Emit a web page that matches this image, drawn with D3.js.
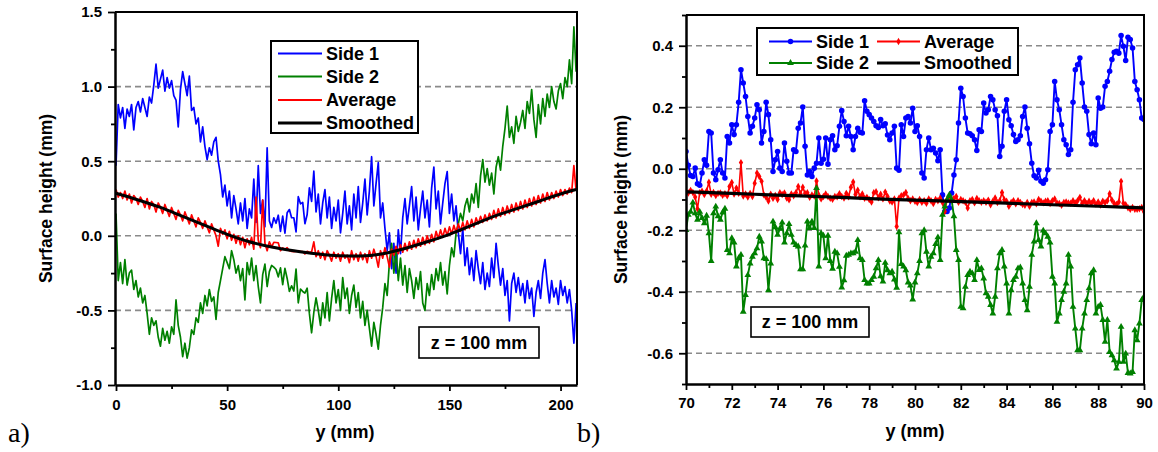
<!DOCTYPE html>
<html>
<head>
<meta charset="utf-8">
<script src="https://cdn.jsdelivr.net/npm/d3@7"></script>
<style>
  body { margin: 0; background: #fff; }
  svg text { font-family: "Liberation Sans", Arial, Helvetica, sans-serif; }
</style>
</head>
<body>
<svg id="chart" width="1158" height="452"></svg>
<script>
// ---------- Panel a): full width profile, 1 mm sampling ----------
const leftY = d3.range(0, 208);   // y position (mm)

const leftSide1 = [
  0.47,0.88,0.79,0.86,0.72,0.85,0.80,0.88,0.71,0.86,
  0.90,0.83,0.92,0.86,0.80,0.93,0.89,1.01,1.15,0.99,
  1.05,1.11,0.97,1.06,0.99,1.04,0.94,0.91,0.73,0.98,
  1.10,1.02,0.94,1.07,0.84,0.86,0.75,0.79,0.63,0.73,
  0.60,0.51,0.59,0.54,0.63,0.66,0.50,0.41,0.26,0.34,
  0.20,0.30,0.12,0.27,0.18,0.08,0.22,0.10,0.25,0.05,
  0.18,0.12,0.38,0.09,0.47,0.15,0.24,0.06,0.59,0.10,
  0.056,0.121,0.084,0.138,0.029,0.132,0.018,0.154,0.176,0.121,
  0.121,0.026,0.262,0.214,0.224,0.081,0.143,0.322,0.230,0.433,
  0.16,0.28,0.08,0.22,0.31,0.12,0.26,0.05,0.19,0.10,
  0.24,0.02,0.15,0.30,0.08,0.20,0.04,0.28,0.12,0.33,
  0.09,0.22,0.38,0.14,0.30,0.53,0.20,0.35,0.49,0.12,
  0.22,0.05,-0.10,0.02,-0.22,-0.05,-0.25,0.04,-0.12,0.12,
  0.25,0.08,0.20,0.33,0.10,0.26,0.04,0.18,0.30,0.12,
  0.24,0.06,0.32,0.46,0.18,0.30,0.08,0.22,0.35,0.43,
  0.15,0.28,0.10,0.20,0.02,-0.12,0.05,-0.20,-0.08,-0.26,
  -0.15,-0.30,-0.10,-0.22,-0.32,-0.18,-0.36,-0.25,-0.34,-0.15,
  -0.28,-0.05,-0.20,-0.33,-0.22,-0.40,-0.30,-0.57,-0.32,-0.25,
  -0.38,-0.28,-0.40,-0.32,-0.45,-0.30,-0.42,-0.35,-0.54,-0.38,
  -0.30,-0.42,-0.25,-0.16,-0.32,-0.45,-0.30,-0.41,-0.35,-0.46,
  -0.30,-0.40,-0.34,-0.45,-0.36,-0.50,-0.72,-0.45
];

const leftSide2 = [
  0.15,-0.30,-0.18,-0.32,-0.16,-0.33,-0.25,-0.23,-0.36,-0.30,
  -0.41,-0.35,-0.45,-0.40,-0.52,-0.66,-0.55,-0.60,-0.57,-0.68,
  -0.74,-0.62,-0.70,-0.64,-0.72,-0.61,-0.66,-0.43,-0.60,-0.68,
  -0.81,-0.72,-0.82,-0.75,-0.63,-0.66,-0.55,-0.58,-0.45,-0.52,
  -0.40,-0.47,-0.36,-0.44,-0.41,-0.56,-0.38,-0.30,-0.22,-0.14,
  -0.18,-0.22,-0.10,-0.16,-0.25,-0.20,-0.30,-0.22,-0.43,-0.18,
  -0.26,-0.15,-0.30,-0.20,-0.34,-0.45,-0.26,-0.19,-0.34,-0.24,
  -0.199,-0.210,-0.226,-0.275,-0.215,-0.327,-0.218,-0.286,-0.373,-0.335,
  -0.370,-0.223,-0.449,-0.357,-0.373,-0.384,-0.351,-0.520,-0.650,-0.514,
  -0.416,-0.50,-0.60,-0.45,-0.55,-0.38,-0.57,-0.42,-0.30,-0.45,
  -0.36,-0.50,-0.28,-0.42,-0.35,-0.52,-0.40,-0.33,-0.48,-0.38,
  -0.55,-0.44,-0.60,-0.50,-0.62,-0.74,-0.58,-0.66,-0.76,-0.60,
  -0.48,-0.32,-0.40,-0.18,-0.05,-0.25,-0.10,-0.30,-0.15,-0.33,
  -0.20,-0.38,-0.22,-0.30,-0.42,-0.28,-0.36,-0.24,-0.45,-0.50,
  -0.32,-0.40,-0.26,-0.36,-0.22,-0.30,-0.18,-0.33,-0.24,-0.39,
  -0.20,-0.08,-0.14,0.02,0.08,0.15,0.10,0.20,0.25,0.16,
  0.28,0.22,0.35,0.19,0.40,0.51,0.36,0.45,0.34,0.42,
  0.28,0.46,0.53,0.44,0.60,0.72,0.87,0.66,0.73,0.62,
  0.80,0.70,0.76,0.84,0.72,0.90,0.82,0.98,0.78,0.66,
  0.88,0.75,0.92,0.80,0.95,0.86,1.00,0.90,0.85,0.97,
  1.02,0.92,1.06,1.00,1.18,1.02,1.40,1.10
];

const leftAverage = [
  0.31,0.26,0.29,0.25,0.30,0.24,0.28,0.22,0.27,0.25,
  0.21,0.26,0.23,0.19,0.25,0.18,0.23,0.21,0.16,0.22,
  0.19,0.15,0.21,0.17,0.13,0.19,0.15,0.11,0.17,0.14,
  0.10,0.16,0.12,0.08,0.14,0.10,0.06,0.12,0.09,0.05,
  0.10,0.06,0.02,0.08,0.04,0.00,-0.07,0.05,0.01,0.04,
  -0.02,0.03,-0.03,0.01,-0.05,0.00,-0.06,-0.01,-0.08,-0.02,
  -0.06,-0.01,-0.09,0.26,-0.03,-0.08,0.24,-0.05,-0.10,-0.04,
  -0.074,-0.044,-0.045,-0.047,-0.100,-0.081,-0.090,-0.080,-0.100,-0.105,
  -0.106,-0.104,-0.100,-0.104,-0.106,-0.122,-0.104,-0.111,-0.108,-0.041,
  -0.140,-0.10,-0.15,-0.11,-0.16,-0.10,-0.13,-0.17,-0.11,-0.15,
  -0.12,-0.17,-0.11,-0.15,-0.13,-0.18,-0.10,-0.16,-0.12,-0.17,
  -0.11,-0.16,-0.12,-0.18,-0.10,-0.15,-0.09,-0.14,-0.21,-0.10,
  -0.15,-0.08,-0.14,-0.21,-0.09,-0.13,-0.07,-0.12,-0.06,-0.11,
  -0.05,-0.10,-0.04,-0.09,-0.03,-0.08,-0.02,-0.07,-0.01,-0.06,
  0.00,-0.05,0.01,-0.04,0.03,-0.02,0.04,-0.01,0.05,0.00,
  0.06,0.01,0.07,0.02,0.08,0.03,0.09,0.04,0.10,0.05,
  0.11,0.06,0.12,0.08,0.13,0.09,0.14,0.10,0.15,0.11,
  0.17,0.12,0.18,0.13,0.19,0.14,0.20,0.15,0.21,0.16,
  0.22,0.17,0.23,0.18,0.24,0.19,0.25,0.20,0.26,0.21,
  0.27,0.22,0.28,0.23,0.29,0.24,0.29,0.25,0.30,0.26,
  0.31,0.27,0.31,0.28,0.32,0.29,0.47,0.30
];

const leftSmoothY = [0,10,20,30,40,50,60,70,80,90,100,110,120,130,140,150,160,170,180,190,200,207];
const leftSmoothed = [0.285,0.24,0.19,0.13,0.07,0.01,-0.04,-0.075,-0.10,-0.12,-0.133,-0.135,-0.12,-0.085,-0.04,0.01,0.07,0.13,0.18,0.23,0.28,0.31];

const leftXTicks = [0, 50, 100, 150, 200];
const leftXMinor = [25, 75, 125, 175];
const leftYTicks = [-1.0, -0.5, 0.0, 0.5, 1.0, 1.5];
const leftYMinor = [-0.75, -0.25, 0.25, 0.75, 1.25];
const leftGrid = [-0.5, 0.0, 0.5, 1.0];

// ---------- Panel b): 70–90 mm detail, 0.1 mm sampling ----------
const rightY = d3.range(0, 201).map(i => +(70 + i / 10).toFixed(1));

const rightSide1 = [
  0.056,0.011,-0.022,-0.025,0.002,-0.049,-0.054,-0.014,0.029,0.011,
  0.121,0.116,-0.014,-0.036,-0.003,0.029,-0.014,-0.030,0.105,0.084,
  0.143,0.111,0.143,0.216,0.322,0.279,0.235,0.170,0.116,0.138,
  0.165,0.208,0.192,0.084,0.121,0.216,0.176,0.094,-0.009,0.029,
  0.056,0.002,-0.009,0.084,0.024,-0.014,-0.014,0.062,0.056,0.132,
  0.149,0.201,0.073,-0.020,-0.009,-0.025,0.002,0.018,0.100,0.018,
  0.031,0.100,0.015,0.094,0.107,0.062,0.075,0.138,0.189,0.154,
  0.107,0.138,0.105,0.062,0.105,0.132,0.119,0.116,0.221,0.187,
  0.176,0.165,0.154,0.140,0.134,0.160,0.140,0.146,0.110,0.094,
  0.116,0.138,0.002,-0.005,0.143,0.105,0.165,0.170,0.149,0.197,
  0.121,0.140,0.105,-0.014,-0.030,0.062,0.100,0.062,0.067,0.051,
  0.026,0.062,-0.085,-0.139,-0.139,-0.128,-0.079,-0.020,0.029,0.149,
  0.262,0.235,0.165,0.116,0.114,0.107,0.094,0.059,0.127,0.121,
  0.214,0.181,0.192,0.235,0.224,0.192,0.172,0.040,0.073,0.187,
  0.224,0.159,0.140,0.111,0.089,0.094,0.107,0.170,0.201,0.132,
  0.081,0.018,-0.023,-0.030,-0.005,-0.041,-0.047,-0.036,-0.003,0.121,
  0.143,0.284,0.224,0.192,0.143,0.094,0.078,0.046,0.062,0.216,
  0.322,0.338,0.360,0.279,0.201,0.187,0.111,0.081,0.116,0.078,
  0.230,0.197,0.201,0.268,0.284,0.317,0.355,0.379,0.382,0.376,
  0.433,0.398,0.352,0.428,0.420,0.393,0.284,0.257,0.224,0.165,
  0.160
];

const rightSide2 = [
  -0.199,-0.150,-0.140,-0.110,-0.145,-0.166,-0.140,-0.160,-0.177,-0.153,
  -0.210,-0.300,-0.145,-0.123,-0.155,-0.166,-0.142,-0.130,-0.264,-0.275,
  -0.226,-0.240,-0.318,-0.291,-0.280,-0.465,-0.411,-0.346,-0.308,-0.286,
  -0.275,-0.259,-0.221,-0.237,-0.291,-0.294,-0.395,-0.308,-0.172,-0.190,
  -0.215,-0.195,-0.175,-0.240,-0.210,-0.180,-0.215,-0.240,-0.248,-0.253,
  -0.327,-0.327,-0.250,-0.172,-0.193,-0.172,-0.193,-0.063,-0.318,-0.210,
  -0.218,-0.291,-0.218,-0.300,-0.325,-0.270,-0.275,-0.319,-0.386,-0.363,
  -0.283,-0.280,-0.275,-0.275,-0.270,-0.232,-0.291,-0.297,-0.362,-0.373,
  -0.373,-0.362,-0.351,-0.324,-0.297,-0.350,-0.367,-0.306,-0.330,-0.340,
  -0.335,-0.360,-0.387,-0.207,-0.310,-0.318,-0.330,-0.370,-0.380,-0.425,
  -0.370,-0.340,-0.300,-0.210,-0.200,-0.270,-0.318,-0.286,-0.275,-0.245,
  -0.223,-0.297,-0.150,-0.123,-0.101,-0.085,-0.101,-0.155,-0.264,-0.297,
  -0.449,-0.454,-0.384,-0.346,-0.335,-0.340,-0.362,-0.297,-0.329,-0.324,
  -0.357,-0.405,-0.416,-0.443,-0.471,-0.416,-0.324,-0.275,-0.264,-0.318,
  -0.373,-0.471,-0.395,-0.362,-0.351,-0.324,-0.321,-0.373,-0.427,-0.460,
  -0.384,-0.280,-0.237,-0.177,-0.232,-0.253,-0.201,-0.210,-0.221,-0.240,
  -0.351,-0.373,-0.498,-0.471,-0.427,-0.400,-0.373,-0.280,-0.318,-0.449,
  -0.520,-0.590,-0.590,-0.520,-0.471,-0.427,-0.389,-0.340,-0.330,-0.471,
  -0.449,-0.443,-0.492,-0.563,-0.492,-0.596,-0.607,-0.623,-0.650,-0.628,
  -0.514,-0.628,-0.601,-0.664,-0.666,-0.661,-0.525,-0.558,-0.503,-0.427,
  -0.416
];

const rightAverage = [
  -0.074,-0.079,-0.071,-0.077,-0.092,-0.130,-0.078,-0.073,-0.084,-0.072,
  -0.044,-0.083,-0.077,-0.087,-0.080,-0.079,-0.086,-0.081,-0.088,-0.058,
  -0.045,-0.082,-0.063,-0.080,0.020,-0.089,-0.082,-0.092,-0.080,-0.090,
  -0.047,-0.014,-0.025,-0.041,-0.085,-0.093,-0.105,-0.083,-0.096,-0.087,
  -0.100,-0.078,-0.084,-0.079,-0.095,-0.101,-0.082,-0.088,-0.078,-0.058,
  -0.081,-0.060,-0.080,-0.078,-0.093,-0.085,-0.089,-0.040,-0.086,-0.098,
  -0.090,-0.082,-0.090,-0.096,-0.099,-0.090,-0.091,-0.081,-0.090,-0.095,
  -0.080,-0.091,-0.060,-0.043,-0.084,-0.070,-0.091,-0.082,-0.096,-0.093,
  -0.100,-0.108,-0.078,-0.075,-0.094,-0.083,-0.098,-0.076,-0.090,-0.105,
  -0.108,-0.098,-0.188,-0.096,-0.088,-0.085,-0.077,-0.097,-0.104,-0.098,
  -0.106,-0.110,-0.100,-0.109,-0.104,-0.112,-0.098,-0.104,-0.113,-0.100,
  -0.104,-0.096,-0.110,-0.139,-0.100,-0.090,-0.100,-0.097,-0.090,-0.109,
  -0.100,-0.104,-0.109,-0.128,-0.104,-0.100,-0.111,-0.097,-0.104,-0.109,
  -0.104,-0.109,-0.102,-0.117,-0.106,-0.095,-0.110,-0.104,-0.077,-0.101,
  -0.106,-0.122,-0.110,-0.104,-0.114,-0.104,-0.110,-0.116,-0.119,-0.110,
  -0.122,-0.110,-0.108,-0.114,-0.100,-0.106,-0.111,-0.106,-0.104,-0.113,
  -0.104,-0.098,-0.111,-0.113,-0.119,-0.110,-0.108,-0.111,-0.112,-0.104,
  -0.111,-0.104,-0.093,-0.112,-0.104,-0.113,-0.106,-0.112,-0.104,-0.115,
  -0.108,-0.118,-0.106,-0.110,-0.104,-0.081,-0.102,-0.113,-0.116,-0.108,
  -0.041,-0.112,-0.117,-0.127,-0.132,-0.126,-0.132,-0.132,-0.130,-0.126,
  -0.140
];

const rightSmoothY = [70,72,74,76,78,80,82,84,86,88,90];
const rightSmoothed = [-0.075,-0.080,-0.086,-0.091,-0.097,-0.102,-0.107,-0.112,-0.117,-0.122,-0.127];

const rightXTicks = [70,72,74,76,78,80,82,84,86,88,90];
const rightXMinor = [71,73,75,77,79,81,83,85,87,89];
const rightYTicks = [-0.6,-0.4,-0.2,0.0,0.2,0.4];
const rightYMinor = [-0.7,-0.5,-0.3,-0.1,0.1,0.3,0.5];
const rightGrid = [-0.6,-0.4,-0.2,0.0,0.2,0.4];

const BLUE = "#0000ff", GREEN = "#008000", RED = "#ff0000", BLACK = "#000000";

const svg = d3.select("#chart");
const fmt1 = d => d.toFixed(1);

function drawPanel(p) {
  const g = svg.append("g");
  const x = d3.scaleLinear().domain(p.xDomain).range([p.left, p.right]);
  const y = d3.scaleLinear().domain(p.yDomain).range([p.bottom, p.top]);

  svg.append("clipPath").attr("id", p.id + "-clip")
    .append("rect")
    .attr("x", p.left).attr("y", p.top)
    .attr("width", p.right - p.left).attr("height", p.bottom - p.top);

  // dashed horizontal grid
  g.append("g").selectAll("line").data(p.grid).join("line")
    .attr("x1", p.left).attr("x2", p.right)
    .attr("y1", d => y(d)).attr("y2", d => y(d))
    .attr("stroke", "#8a8a8a").attr("stroke-width", 1.6)
    .attr("stroke-dasharray", "6,4");

  // data series
  const plot = g.append("g").attr("clip-path", `url(#${p.id}-clip)`);
  p.series.forEach(s => {
    const line = d3.line().x((d, i) => x(s.xs[i])).y(d => y(d));
    if (s.curve) line.curve(s.curve);
    plot.append("path").datum(s.values)
      .attr("fill", "none").attr("stroke", s.color)
      .attr("stroke-width", s.width).attr("stroke-linejoin", "round")
      .attr("d", line);
    if (s.symbol) {
      const sym = d3.symbol(s.symbol, s.symbolSize)();
      plot.append("g").selectAll("path").data(s.values).join("path")
        .attr("transform", (d, i) => `translate(${x(s.xs[i])},${y(d)})`)
        .attr("d", sym).attr("fill", s.color);
    }
  });

  // frame (top and right)
  g.append("path")
    .attr("d", `M${p.left},${p.top}H${p.right}V${p.bottom}`)
    .attr("fill", "none").attr("stroke", BLACK).attr("stroke-width", 2);

  // axes
  const styleAxis = sel => {
    sel.select(".domain").attr("stroke", BLACK).attr("stroke-width", 2.5);
    sel.selectAll(".tick line").attr("stroke", BLACK).attr("stroke-width", 1.8);
    sel.selectAll("text").attr("font-size", 15).attr("font-weight", "bold").attr("fill", BLACK)
      .style("font-family", '"Liberation Sans", Arial, sans-serif');
  };
  g.append("g").attr("transform", `translate(0,${p.bottom})`)
    .call(d3.axisBottom(x).tickValues(p.xMinor).tickSize(4).tickSizeOuter(0).tickFormat(""))
    .call(s => { s.select(".domain").remove(); s.selectAll(".tick line").attr("stroke", BLACK).attr("stroke-width", 1.8); });
  g.append("g").attr("transform", `translate(${p.left},0)`)
    .call(d3.axisLeft(y).tickValues(p.yMinor).tickSize(4).tickSizeOuter(0).tickFormat(""))
    .call(s => { s.select(".domain").remove(); s.selectAll(".tick line").attr("stroke", BLACK).attr("stroke-width", 1.8); });
  g.append("g").attr("transform", `translate(0,${p.bottom})`)
    .call(d3.axisBottom(x).tickValues(p.xTicks).tickSize(6).tickSizeOuter(0).tickPadding(p.xPad).tickFormat(d => String(d)))
    .call(styleAxis);
  g.append("g").attr("transform", `translate(${p.left},0)`)
    .call(d3.axisLeft(y).tickValues(p.yTicks).tickSize(7).tickSizeOuter(0).tickPadding(6).tickFormat(fmt1))
    .call(styleAxis);

  // axis titles
  g.append("text")
    .attr("transform", `translate(${p.yTitleX},${(p.top + p.bottom) / 2}) rotate(-90)`)
    .attr("text-anchor", "middle").attr("dominant-baseline", "central")
    .attr("font-size", 17.5).attr("font-weight", "bold")
    .text("Surface height (mm)");
  g.append("text")
    .attr("x", p.xTitleX).attr("y", p.xTitleY)
    .attr("text-anchor", "middle")
    .attr("font-size", 18).attr("font-weight", "bold")
    .text("y (mm)");

  // panel letter
  g.append("text")
    .attr("x", p.letterX).attr("y", 442)
    .attr("font-size", 28)
    .style("font-family", '"Liberation Serif", "Times New Roman", serif')
    .text(p.letter);

  // annotation box
  g.append("rect")
    .attr("x", p.note.x).attr("y", p.note.y).attr("width", p.note.w).attr("height", p.note.h)
    .attr("fill", "#fff").attr("stroke", BLACK).attr("stroke-width", 1.6);
  g.append("text")
    .attr("x", p.note.x + p.note.w / 2).attr("y", p.note.y + p.note.h / 2)
    .attr("text-anchor", "middle").attr("dominant-baseline", "central")
    .attr("font-size", 18).attr("font-weight", "bold")
    .text("z = 100 mm");

  // legend
  const L = p.legend;
  g.append("rect")
    .attr("x", L.x).attr("y", L.y).attr("width", L.w).attr("height", L.h)
    .attr("fill", "#fff").attr("stroke", BLACK).attr("stroke-width", 2);
  L.items.forEach(it => {
    g.append("line")
      .attr("x1", it.x).attr("x2", it.x + it.len)
      .attr("y1", it.y).attr("y2", it.y)
      .attr("stroke", it.color).attr("stroke-width", it.width);
    if (it.symbol) {
      g.append("path")
        .attr("transform", `translate(${it.x + it.len / 2},${it.y})`)
        .attr("d", d3.symbol(it.symbol, it.symbolSize)())
        .attr("fill", it.color);
    }
    g.append("text")
      .attr("x", it.x + it.len + 4).attr("y", it.y)
      .attr("dominant-baseline", "central")
      .attr("font-size", it.fontSize).attr("font-weight", "bold")
      .text(it.label);
  });
}

drawPanel({
  id: "pa",
  left: 115, right: 577, top: 12, bottom: 385,
  xDomain: [-0.45, 207.4], yDomain: [-1.0, 1.5],
  xTicks: leftXTicks, xMinor: leftXMinor, yTicks: leftYTicks, yMinor: leftYMinor,
  grid: leftGrid, xPad: 8,
  yTitleX: 46, xTitleX: 345, xTitleY: 438,
  letter: "a)", letterX: 8,
  note: { x: 419, y: 327, w: 120, h: 31 },
  series: [
    { xs: leftY, values: leftSide1, color: BLUE, width: 1.7 },
    { xs: leftY, values: leftSide2, color: GREEN, width: 1.7 },
    { xs: leftY, values: leftAverage, color: RED, width: 1.7 },
    { xs: leftSmoothY, values: leftSmoothed, color: BLACK, width: 3, curve: d3.curveMonotoneX }
  ],
  legend: {
    x: 271, y: 41, w: 147, h: 92,
    items: [
      { label: "Side 1", color: BLUE, width: 2, x: 278, len: 44, y: 53.5, fontSize: 18 },
      { label: "Side 2", color: GREEN, width: 2, x: 278, len: 44, y: 76.5, fontSize: 18 },
      { label: "Average", color: RED, width: 2, x: 278, len: 44, y: 100, fontSize: 18 },
      { label: "Smoothed", color: BLACK, width: 3, x: 278, len: 44, y: 123, fontSize: 18 }
    ]
  }
});

drawPanel({
  id: "pb",
  left: 686, right: 1144, top: 15, bottom: 384,
  xDomain: [70, 90], yDomain: [-0.7, 0.5],
  xTicks: rightXTicks, xMinor: rightXMinor, yTicks: rightYTicks, yMinor: rightYMinor,
  grid: rightGrid, xPad: 7,
  yTitleX: 621, xTitleX: 915, xTitleY: 437,
  letter: "b)", letterX: 577,
  note: { x: 751, y: 307, w: 118, h: 30 },
  series: [
    { xs: rightY, values: rightSide1, color: BLUE, width: 1.9, symbol: d3.symbolCircle, symbolSize: 24 },
    { xs: rightY, values: rightAverage, color: RED, width: 1.6, symbol: d3.symbolDiamond, symbolSize: 16 },
    { xs: rightY, values: rightSide2, color: GREEN, width: 1.9, symbol: d3.symbolTriangle, symbolSize: 20 },
    { xs: rightSmoothY, values: rightSmoothed, color: BLACK, width: 3.2, curve: d3.curveMonotoneX }
  ],
  legend: {
    x: 757, y: 28, w: 261, h: 47,
    items: [
      { label: "Side 1", color: BLUE, width: 2, x: 769, len: 43, y: 41.5, fontSize: 18, symbol: d3.symbolCircle, symbolSize: 24 },
      { label: "Side 2", color: GREEN, width: 2, x: 769, len: 43, y: 63, fontSize: 18, symbol: d3.symbolTriangle, symbolSize: 20 },
      { label: "Average", color: RED, width: 2, x: 877, len: 43, y: 41.5, fontSize: 18, symbol: d3.symbolDiamond, symbolSize: 16 },
      { label: "Smoothed", color: BLACK, width: 3, x: 877, len: 43, y: 63, fontSize: 18 }
    ]
  }
});
</script>
</body>
</html>
